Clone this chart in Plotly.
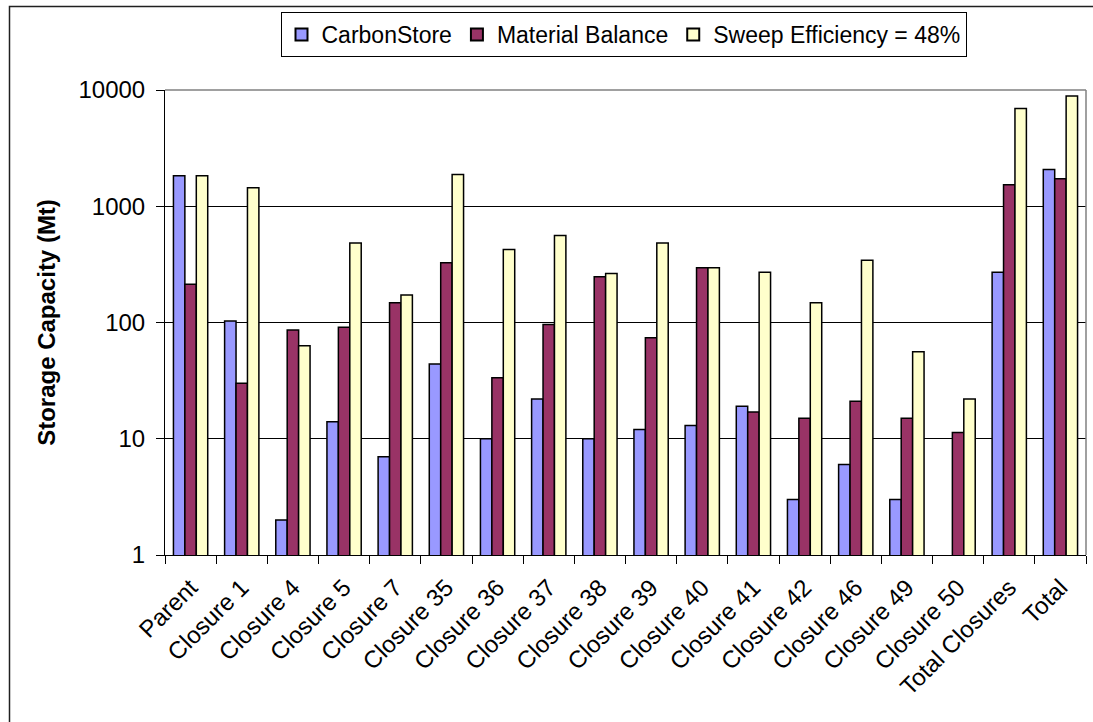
import plotly.graph_objects as go

# Storage capacity estimates (Mt) per structure
categories = ["Parent", "Closure 1", "Closure 4", "Closure 5", "Closure 7",
              "Closure 35", "Closure 36", "Closure 37", "Closure 38", "Closure 39",
              "Closure 40", "Closure 41", "Closure 42", "Closure 46", "Closure 49",
              "Closure 50", "Total Closures", "Total"]

carbonstore = [1830, 103, 2, 14, 7, 44, 10, 22, 10, 12, 13, 19, 3, 6, 3, None, 271, 2070]
material_balance = [213, 30, 86, 91, 148, 326, 33.5, 96, 247, 74, 296, 17, 15, 21, 15, 11.3, 1530, 1720]
sweep_efficiency = [1830, 1440, 63, 482, 172, 1880, 425, 561, 264, 482, 296, 271, 148, 344, 56, 22, 6930, 8890]

series_names = ["CarbonStore", "Material Balance", "Sweep Efficiency = 48%"]
series_colors = ["#9999FF", "#993366", "#FFFFCC"]

y_tickvals = [1, 10, 100, 1000, 10000]
y_ticktext = ["1", "10", "100", "1000", "10000"]

FONT = "Liberation Sans, Arial, sans-serif"

fig = go.Figure()
for name, vals, col in zip(series_names,
                           [carbonstore, material_balance, sweep_efficiency],
                           series_colors):
    fig.add_trace(go.Bar(
        x=categories, y=vals, name=name,
        marker=dict(color=col, line=dict(color="#000000", width=1.5)),
    ))

W, H = 1093, 722
L, R, T, B = 165, 7, 90, 167
pw = W - L - R
ph = H - T - B


def px_x(p):
    return (p - L) / pw


def px_y(p):
    return 1 + (T - p) / ph


fig.update_layout(
    width=W, height=H,
    margin=dict(l=L, r=R, t=T, b=B, pad=0),
    paper_bgcolor="white", plot_bgcolor="white",
    font=dict(family=FONT, size=24, color="#000000"),
    barmode="group", bargap=0.33, bargroupgap=0,
    showlegend=True,
    legend=dict(
        orientation="h",
        x=px_x(623.5), xanchor="center",
        y=px_y(12), yanchor="top",
        bgcolor="white", bordercolor="#000000", borderwidth=1,
        font=dict(family=FONT, size=23, color="#000000"),
        itemsizing="constant",
        tracegroupgap=0,
    ),
    xaxis=dict(
        type="category",
        tickangle=-45,
        tickfont=dict(family=FONT, size=24, color="#000000"),
        ticklabelstandoff=8,
        showline=True, linecolor="#000000", linewidth=1,
        ticks="outside", ticklen=8, tickcolor="#000000", tickwidth=1,
        tickson="boundaries",
        showgrid=False, zeroline=False,
    ),
    yaxis=dict(
        type="log", range=[0, 4],
        tickvals=y_tickvals, ticktext=y_ticktext,
        tickfont=dict(family=FONT, size=24, color="#000000"),
        ticklabelstandoff=6,
        showline=True, linecolor="#000000", linewidth=1,
        ticks="outside", ticklen=8, tickcolor="#000000", tickwidth=1,
        showgrid=True, gridcolor="#000000", gridwidth=1,
        zeroline=False,
        title=dict(text="<b>Storage Capacity (Mt)</b>",
                   font=dict(family=FONT, size=24, color="#000000"),
                   standoff=16),
    ),
    shapes=[
        # grey frame on the top and right of the plot area
        dict(type="line", xref="paper", yref="paper", x0=0, x1=1, y0=1, y1=1,
             line=dict(color="#808080", width=1.5), layer="above"),
        dict(type="line", xref="paper", yref="paper", x0=1, x1=1, y0=0, y1=1,
             line=dict(color="#808080", width=1.5), layer="above"),
        # outer chart border
        dict(type="rect", xref="paper", yref="paper",
             x0=px_x(9.5), x1=px_x(1200), y0=px_y(900), y1=px_y(6.5),
             line=dict(color="#202020", width=1.5), layer="above"),
    ],
)

fig.write_html("out.html")
